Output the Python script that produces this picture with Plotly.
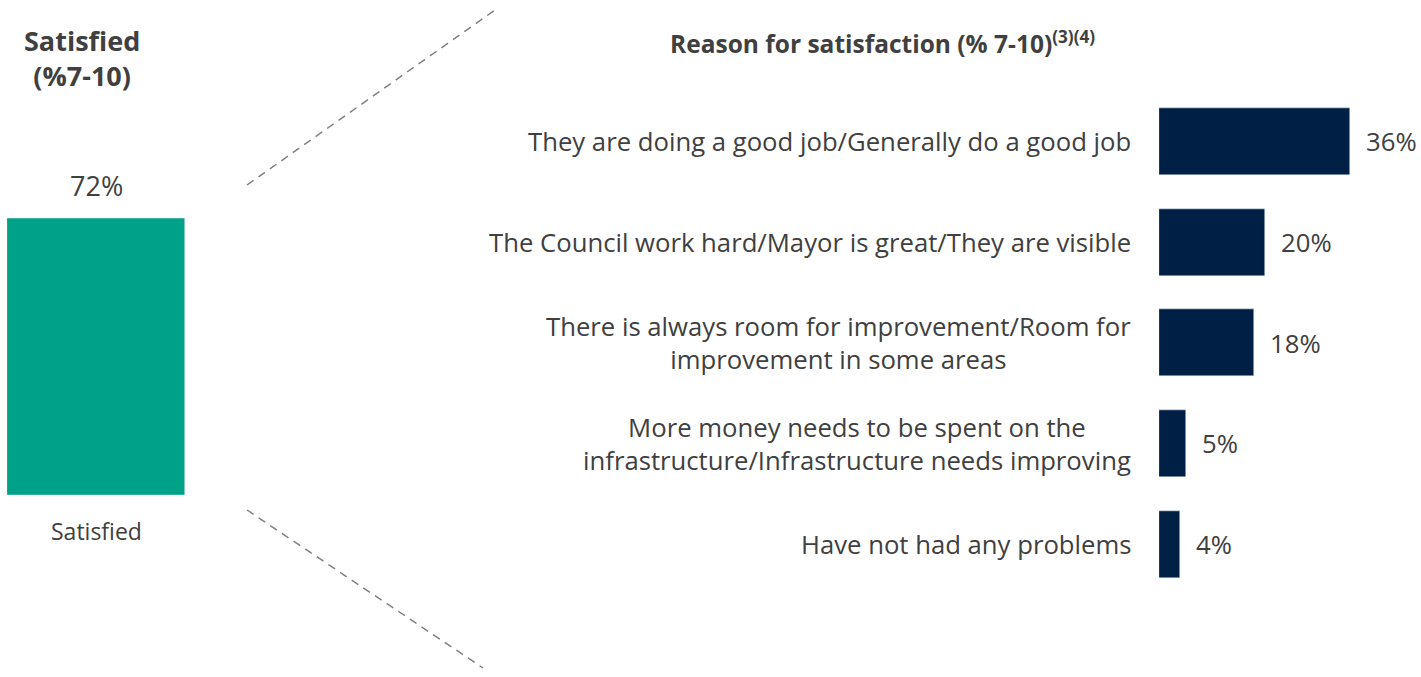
import plotly.graph_objects as go

W, H = 1421, 677

left_category = ["Satisfied"]
left_values = [72]

reasons = [
    "They are doing a good job/Generally do a good job",
    "The Council work hard/Mayor is great/They are visible",
    "There is always room for improvement/Room for<br>improvement in some areas",
    "More money needs to be spent on the<br>infrastructure/Infrastructure needs improving",
    "Have not had any problems",
]
reason_values = [36, 20, 18, 5, 4]

TEAL = "#00A189"
NAVY = "#001F44"
TXT = "#404040"
FONT = "Open Sans"

def px(x):
    return x / W

def py(y):
    return 1 - y / H

fig = go.Figure()

fig.add_trace(go.Bar(
    x=left_category, y=left_values, marker_color=TEAL, width=1,
    xaxis="x", yaxis="y", showlegend=False, hoverinfo="skip",
))

fig.add_trace(go.Bar(
    y=list(range(len(reasons))), x=reason_values, orientation="h",
    marker_color=NAVY, width=0.665,
    xaxis="x2", yaxis="y2", showlegend=False, hoverinfo="skip",
))

annotations = []
annotations.append(dict(x=left_category[0], y=left_values[0], xref="x", yref="y",
                        text=f"{left_values[0]}%", showarrow=False, yanchor="bottom", yshift=12,
                        font=dict(family=FONT, size=27, color=TXT)))
annotations.append(dict(x=left_category[0], y=0, xref="x", yref="y",
                        text=left_category[0], showarrow=False, yanchor="top", yshift=-18,
                        font=dict(family=FONT, size=23, color=TXT)))
annotations.append(dict(x=px(82), y=py(58), xref="paper", yref="paper",
                        text="<b>Satisfied<br>(%7-10)</b>", showarrow=False,
                        xanchor="center", yanchor="middle", align="center",
                        font=dict(family=FONT, size=27, color=TXT)))
annotations.append(dict(x=px(882), y=py(42), xref="paper", yref="paper",
                        text="<b>Reason for satisfaction (% 7-10)<sup>(3)(4)</sup></b>", showarrow=False,
                        xanchor="center", yanchor="middle",
                        font=dict(family=FONT, size=24.5, color=TXT)))
for i, (lab, v) in enumerate(zip(reasons, reason_values)):
    annotations.append(dict(x=px(1133), y=i, xref="paper", yref="y2",
                            text=lab, showarrow=False, xanchor="right", yanchor="middle",
                            align="center", font=dict(family=FONT, size=25.7, color=TXT)))
    annotations.append(dict(x=v, y=i, xref="x2", yref="y2",
                            text=f"{v}%", showarrow=False, xanchor="left", yanchor="middle",
                            xshift=14, font=dict(family=FONT, size=25.7, color=TXT)))

dash_line = dict(color="#808080", width=1.5, dash="8px,6px")
shapes = [
    dict(type="line", xref="paper", yref="paper", x0=px(247), y0=py(185), x1=px(495), y1=py(10),
         line=dash_line),
    dict(type="line", xref="paper", yref="paper", x0=px(247), y0=py(510), x1=px(483), y1=py(668),
         line=dash_line),
]

scale = 5.3  # px per percent
fig.update_layout(
    width=W, height=H,
    margin=dict(l=0, r=0, t=0, b=0),
    paper_bgcolor="white", plot_bgcolor="white",
    xaxis=dict(domain=[px(7), px(185)], range=[-0.5, 0.5], visible=False, fixedrange=True),
    yaxis=dict(domain=[py(495), py(110.3)], range=[0, 100], visible=False),
    xaxis2=dict(domain=[px(1159), 1], range=[0, (W - 1159) / scale], visible=False, anchor="y2"),
    yaxis2=dict(domain=[py(594.9), py(91.1)], range=[len(reasons) - 0.5, -0.5], visible=False, anchor="x2"),
    annotations=annotations,
    shapes=shapes,
    bargap=0,
)

fig.write_html("out.html", config={"displayModeBar": False},
               post_script="document.body.style.margin='0';document.body.style.overflow='hidden';")
